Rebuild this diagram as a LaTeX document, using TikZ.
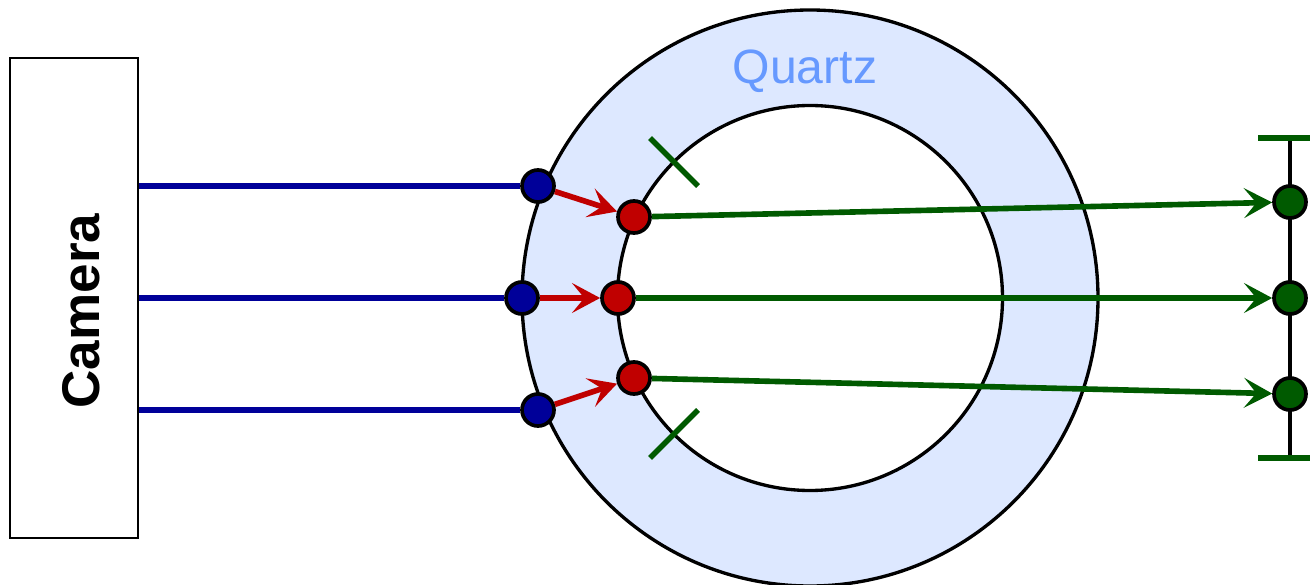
\documentclass[tikz,border=0pt]{standalone}
\usepackage{fontspec}
\setmainfont{Liberation Sans}
\usetikzlibrary{arrows.meta}
\definecolor{quartzfill}{HTML}{DDE8FF}
\definecolor{quartztext}{HTML}{6699FF}
\definecolor{rayblue}{HTML}{000099}
\definecolor{rayred}{HTML}{C00000}
\definecolor{raygreen}{HTML}{005A00}
\tikzset{tip/.style={-{Stealth[length=16pt,width=17pt,inset=7pt]}},
  dot/.style={circle,draw=black,line width=2.1pt,inner sep=0pt,minimum size=.64cm},
  bluedot/.style={dot,fill=rayblue},reddot/.style={dot,fill=rayred},greendot/.style={dot,fill=raygreen},
  wall/.style={draw=black,line width=1.9pt},
  blueray/.style={rayblue,line width=3.2pt},redray/.style={tip,rayred,line width=3.2pt},
  greenray/.style={tip,raygreen,line width=3.2pt},greenbar/.style={raygreen,line width=3.2pt}}

\begin{document}
\begin{tikzpicture}
\useasboundingbox (0,0) rectangle (26.2,11.68);
\fill[quartzfill,even odd rule] (16.2,5.72) circle (5.76) (16.2,5.72) circle (3.85);
\draw[wall] (16.2,5.72) circle (5.76);
\draw[wall] (16.2,5.72) circle (3.85);
\node[text=quartztext,font=\fontsize{27.4}{30}\selectfont] (quartz) at (16.1,10.26) {Quartz};
\node[draw=black,line width=1.7pt,fill=white,minimum width=2.56cm,minimum height=9.6cm,inner sep=0pt] (camera) at (1.48,5.72) {};
\node[rotate=90,font=\fontsize{30.2}{34}\selectfont\bfseries] (label) at (1.62,5.46) {Camera};
% detector line
\coordinate (dtop) at (25.8,8.92);
\coordinate (dbot) at (25.8,2.52);
\draw[wall] (dtop) -- (dbot);
\draw[greenbar] (25.16,8.92) -- (26.2,8.92);
\draw[greenbar] (25.16,2.52) -- (26.2,2.52);
% field stops
\draw[greenbar] (13,8.92) -- (13.96,7.96);
\draw[greenbar] (13,2.52) -- (13.96,3.48);
% the three rays
\foreach \k/\xb/\yb/\xr/\yr/\yg in {1/10.76/7.96/12.68/7.34/7.64,2/10.44/5.72/12.36/5.72/5.72,3/10.76/3.48/12.68/4.12/3.8}{
  \node[bluedot] (b\k) at (\xb,\yb) {};
  \node[reddot] (r\k) at (\xr,\yr) {};
  \node[greendot] (g\k) at (25.8,\yg) {};
  \draw[blueray] (camera.east |- b\k) -- (b\k);
  \draw[redray] (b\k) -- (r\k);
  \draw[greenray] (r\k) -- (g\k);
}
\end{tikzpicture}
\end{document}
